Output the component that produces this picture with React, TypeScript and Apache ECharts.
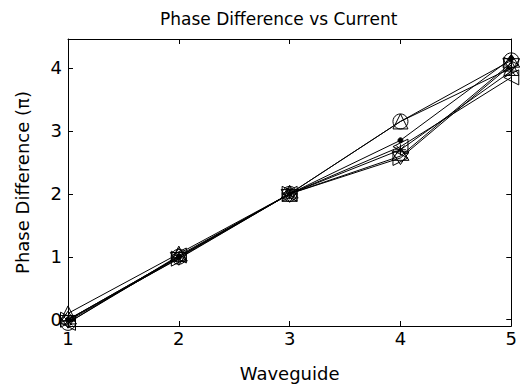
import { useEffect, useRef } from "react";
import * as echarts from "echarts";

// Waveguide index along the x axis
const waveguides = [1, 2, 3, 4, 5];
// Tick positions on the phase axis (units of pi)
const phaseTicks = [0, 1, 2, 3, 4];

// Phase difference (pi) per waveguide, one array per drive current
const phaseCircle = [-0.05, 1.0, 2.0, 3.15, 4.12];
const phaseTriUp = [0.1, 1.05, 2.0, 3.15, 4.0];
const phaseTriLeft = [-0.05, 1.02, 2.0, 2.75, 3.85];
const phaseTriRight = [0.0, 0.97, 2.0, 2.57, 4.05];
const phaseDot = [0.0, 1.0, 2.0, 2.85, 4.15];
const phaseStar = [-0.02, 0.98, 2.0, 2.7, 3.95];
const phaseHexagram = [0.0, 1.0, 2.0, 2.6, 4.08];

const FONT = "DejaVu Sans";

const TRI_UP = "path://M0,-1L0.866,0.5L-0.866,0.5Z";
const TRI_LEFT = "path://M-1,0L0.5,-0.866L0.5,0.866Z";
const TRI_RIGHT = "path://M1,0L-0.5,-0.866L-0.5,0.866Z";
const HEXAGRAM = "path://M0,-1L0.866,0.5L-0.866,0.5ZM0,1L0.866,-0.5L-0.866,-0.5Z";
const ASTERISK = "path://M0,-1L0,1M-0.8,-0.8L0.8,0.8M-0.8,0.8L0.8,-0.8M-1,0L1,0";

function makeSeries(values: number[], symbol: string, size: number, filled = false) {
  return {
    type: "line",
    data: waveguides.map((w, i) => [w, values[i]]),
    symbol,
    symbolSize: size,
    showAllSymbol: true,
    lineStyle: { color: "#000", width: 1 },
    itemStyle: {
      color: filled ? "#000" : "transparent",
      borderColor: "#000",
      borderWidth: 1,
    },
    emphasis: { disabled: true },
    z: 3,
  };
}

export default function App() {
  const ref = useRef<HTMLDivElement>(null);

  useEffect(() => {
    if (!ref.current) return;
    const chart = echarts.init(ref.current, null, { renderer: "svg" });

    const baseX = {
      type: "value",
      min: 1,
      max: 5,
      interval: 1,
      splitLine: { show: false },
      axisLine: { show: true, onZero: false, lineStyle: { color: "#000", width: 1 } },
      axisTick: { show: true, inside: true, length: 5, lineStyle: { color: "#000" } },
    };
    const baseY = {
      type: "value",
      min: -0.1,
      max: 4.46,
      splitLine: { show: false },
      axisLine: { show: true, onZero: false, lineStyle: { color: "#000", width: 1 } },
      axisTick: {
        show: true,
        inside: true,
        length: 5,
        customValues: phaseTicks,
        lineStyle: { color: "#000" },
      },
    };

    chart.setOption({
      animation: false,
      backgroundColor: "#fff",
      title: {
        text: "Phase Difference vs Current",
        left: 155,
        top: 5,
        textStyle: { fontFamily: FONT, fontSize: 17, fontWeight: "normal", color: "#000" },
      },
      grid: { left: 68, right: 4, top: 39, bottom: 64 },
      xAxis: [
        {
          ...baseX,
          position: "bottom",
          name: "Waveguide",
          nameLocation: "middle",
          nameGap: 38,
          nameTextStyle: { fontFamily: FONT, fontSize: 18, color: "#000" },
          axisLabel: { fontFamily: FONT, fontSize: 18, color: "#000", margin: 3 },
        },
        { ...baseX, position: "top", axisLabel: { show: false } },
      ],
      yAxis: [
        {
          ...baseY,
          position: "left",
          name: "Phase Difference (\u03c0)",
          nameLocation: "middle",
          nameGap: 37,
          nameTextStyle: { fontFamily: FONT, fontSize: 18, color: "#000" },
          axisLabel: {
            fontFamily: FONT,
            fontSize: 18,
            color: "#000",
            margin: 6,
            customValues: phaseTicks,
          },
        },
        { ...baseY, position: "right", axisLabel: { show: false } },
      ],
      series: [
        makeSeries(phaseCircle, "circle", 15),
        makeSeries(phaseTriUp, TRI_UP, 15),
        makeSeries(phaseTriLeft, TRI_LEFT, 15),
        makeSeries(phaseTriRight, TRI_RIGHT, 15),
        makeSeries(phaseDot, "circle", 5, true),
        makeSeries(phaseStar, ASTERISK, 11),
        makeSeries(phaseHexagram, HEXAGRAM, 17),
      ],
    });

    return () => chart.dispose();
  }, []);

  return (
    <div
      ref={ref}
      style={{ position: "absolute", left: 0, top: 0, width: 520, height: 390 }}
    />
  );
}
